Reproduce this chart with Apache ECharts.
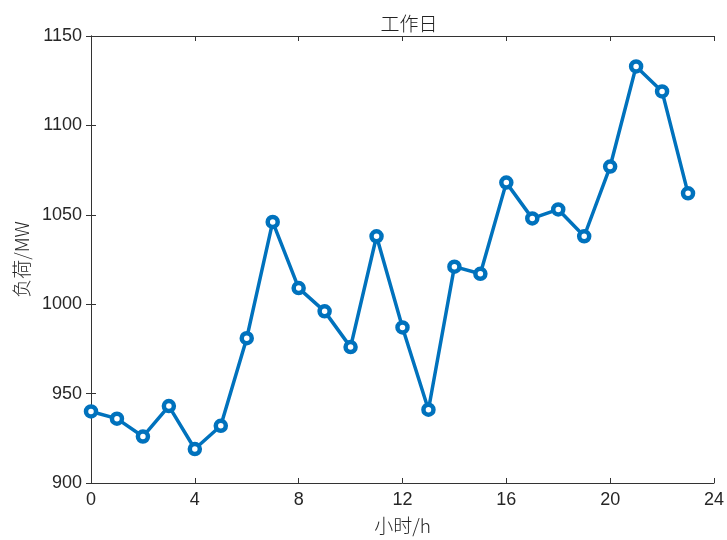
<!DOCTYPE html>
<html>
<head>
<meta charset="utf-8">
<script src="https://cdn.jsdelivr.net/npm/echarts@6/dist/echarts.min.js"></script>
<style>
  html, body { margin: 0; padding: 0; background: #fff; }
  #chart { width: 727px; height: 540px; }
</style>
</head>
<body>
<div id="chart"></div>
<script>
// données (heure -> charge)
const hours = [0, 1, 2, 3, 4, 5, 6, 7, 8, 9, 10, 11, 12, 13, 14, 15, 16, 17, 18, 19, 20, 21, 22, 23];
const load = [940, 936, 926, 943, 919, 932, 981, 1046, 1009, 996, 976, 1038, 987, 941, 1021, 1017, 1068, 1048, 1053, 1038, 1077, 1133, 1119, 1062];

const chart = echarts.init(document.getElementById('chart'));

const tickFont = { color: '#262626', fontSize: 18, fontFamily: 'Liberation Sans, Arial, sans-serif' };
const lineStyle = { color: '#333', width: 1 };
const cjkFont = { color: '#262626', fontSize: 19, fontWeight: 300, fontFamily: 'Noto Sans CJK SC' };

const options = {
    animation: false,
    title: {
        text: '工作日',
        left: 404,
        textAlign: 'center',
        top: 9,
        textStyle: { ...cjkFont, color: '#222' }
    },
    grid: { left: 91, right: 11, top: 36, bottom: 55 },
    xAxis: [
        {
            type: 'value', min: 0, max: 24, interval: 4,
            name: '小时/h', nameLocation: 'middle', nameGap: 33,
            nameTextStyle: cjkFont,
            axisLine: { lineStyle },
            axisTick: { inside: true, length: 5, lineStyle },
            axisLabel: { ...tickFont, margin: 8 },
            splitLine: { show: false }
        },
        {
            type: 'value', min: 0, max: 24, interval: 4, position: 'top',
            axisLine: { show: true, lineStyle },
            axisTick: { inside: true, length: 5, lineStyle },
            axisLabel: { show: false },
            splitLine: { show: false }
        }
    ],
    yAxis: [
        {
            type: 'value', min: 900, max: 1150, interval: 50,
            name: '负荷/MW', nameLocation: 'middle', nameGap: 56, nameRotate: 90,
            nameTextStyle: cjkFont,
            axisLine: { show: true, lineStyle },
            axisTick: { show: true, inside: true, length: 5, lineStyle },
            axisLabel: { ...tickFont, margin: 9, formatter: v => String(v) },
            splitLine: { show: false }
        },
        {
            type: 'value', min: 900, max: 1150, interval: 50, position: 'right',
            axisLine: { show: true, lineStyle },
            axisTick: { show: true, inside: true, length: 5, lineStyle },
            axisLabel: { show: false },
            splitLine: { show: false }
        }
    ],
    series: [
        {
            type: 'line',
            data: hours.map((h, i) => [h, load[i]]),
            symbol: 'circle',
            symbolSize: 10,
            lineStyle: { color: '#0072BD', width: 3.5 },
            itemStyle: { color: '#ffffff', borderColor: '#0072BD', borderWidth: 4.5 }
        }
    ]
};

chart.setOption(options);

window.addEventListener('resize', () => {
    chart.resize();
});
</script>
</body>
</html>
